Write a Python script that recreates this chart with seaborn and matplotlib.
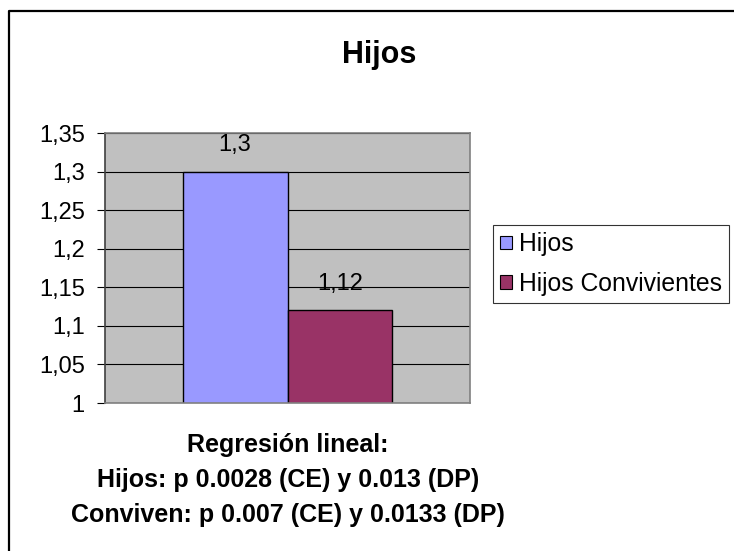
import pandas as pd
import matplotlib.pyplot as plt
import seaborn as sns
from matplotlib.lines import Line2D
from matplotlib.ticker import FuncFormatter, MultipleLocator

# data
series = ["Hijos", "Hijos Convivientes"]
values = [1.3, 1.12]
value_labels = ["1,3", "1,12"]
colors = ["#9999FF", "#993366"]
footer = ["Regresión lineal:",
          "Hijos: p 0.0028 (CE) y 0.013 (DP)",
          "Conviven: p 0.007 (CE) y 0.0133 (DP)"]

sns.set_style("white")
plt.rcParams['font.family'] = ['Liberation Sans', 'DejaVu Sans']
plt.rcParams['text.color'] = 'black'
plt.rcParams['ytick.color'] = 'black'
plt.rcParams['ytick.labelcolor'] = 'black'

W, H = 734, 551
fig = plt.figure(figsize=(W / 100, H / 100), dpi=100)
ax = fig.add_axes([105 / W, 1 - 403 / H, 365 / W, 270 / H])

df = pd.DataFrame({"grupo": [""] * len(series), "serie": series, "valor": values})
sns.barplot(data=df, x="grupo", y="valor", hue="serie", palette=colors,
            width=0.575, edgecolor="black", linewidth=1, saturation=1, ax=ax)

ax.set_facecolor("#C0C0C0")
ax.set_ylim(1, 1.35)
ax.set_xlim(-0.5, 0.5)
ax.yaxis.set_major_locator(MultipleLocator(0.05))
ax.yaxis.set_major_formatter(FuncFormatter(lambda v, p: f"{v:.2f}".rstrip("0").rstrip(".").replace(".", ",")))
ax.grid(axis="y", color="black", linewidth=0.8)
ax.set_axisbelow(True)
ax.set_xlabel("")
ax.set_ylabel("")
ax.set_xticks([])
ax.tick_params(axis="y", length=5.5, width=0.8, color="black", labelsize=17, pad=9, left=True)
for name, sp in ax.spines.items():
    sp.set_color("#808080")
    sp.set_linewidth(1.2)
ax.spines["left"].set_color("#404040")

for cont, lab in zip(ax.containers, value_labels):
    ax.bar_label(cont, labels=[lab], padding=11, fontsize=17)

leg = ax.get_legend()
if leg is not None:
    leg.remove()
handles = [plt.Rectangle((0, 0), 1, 1, facecolor=c, edgecolor="black", linewidth=0.8) for c in colors]
fig.legend(handles, series, loc="upper left", bbox_to_anchor=(493 / W, 1 - 225 / H),
           frameon=True, fancybox=False, edgecolor="black", fontsize=17.8,
           handlelength=0.45, handleheight=0.45, handletextpad=0.3,
           borderpad=0.3, labelspacing=0.62, borderaxespad=0)
fig.legends[0].get_frame().set_linewidth(0.8)

fig.text(379 / W, 1 - 55 / H, "Hijos", ha="center", va="center", fontsize=22, fontweight="bold")

for yy, line in zip([445, 480, 515], footer):
    fig.text(288 / W, 1 - yy / H, line, ha="center", va="center", fontsize=18, fontweight="bold")

# outer chart frame (top and left edges visible)
fig.add_artist(Line2D([9 / W, 9 / W, 1.0], [0, 1 - 11 / H, 1 - 11 / H],
                      transform=fig.transFigure, color="black", linewidth=1.6))

fig.savefig("out.png", dpi=100)
